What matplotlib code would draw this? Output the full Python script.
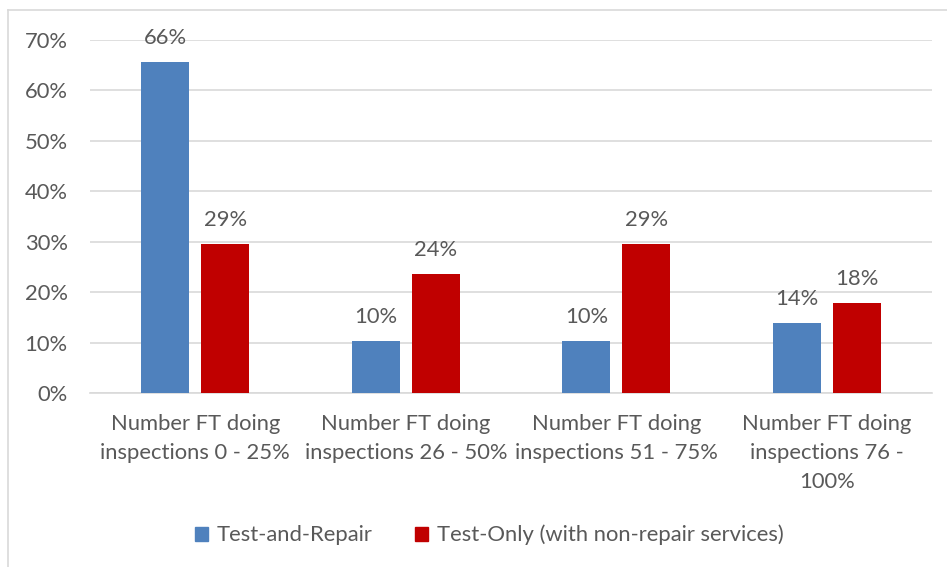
import matplotlib
matplotlib.use("Agg")
import matplotlib.pyplot as plt
import numpy as np
from matplotlib.patches import Rectangle
from matplotlib.lines import Line2D

categories = ["Number FT doing\ninspections 0 - 25%",
              "Number FT doing\ninspections 26 - 50%",
              "Number FT doing\ninspections 51 - 75%",
              "Number FT doing\ninspections 76 -\n100%"]
series_names = ["Test-and-Repair", "Test-Only (with non-repair services)"]
test_and_repair = [0.656, 0.103, 0.103, 0.139]
test_only = [0.295, 0.236, 0.295, 0.178]
labels_tr = ["66%", "10%", "10%", "14%"]
labels_to = ["29%", "24%", "29%", "18%"]
yticks = [0, 0.1, 0.2, 0.3, 0.4, 0.5, 0.6, 0.7]

BLUE = "#4f81bd"
RED = "#c00000"
TXT = "#595959"
FS = 15.8
plt.rcParams['font.family'] = ['Lato', 'DejaVu Sans']

fig = plt.figure(figsize=(9.47, 5.67), dpi=100)
ax = fig.add_axes([90/947, 1-393/567, 842/947, 353/567])

x = np.arange(len(categories))
w = 0.228
off = 0.1425
b1 = ax.bar(x - off, test_and_repair, w, color=BLUE, zorder=3, label=series_names[0])
b2 = ax.bar(x + off, test_only, w, color=RED, zorder=3, label=series_names[1])
for bars, labs in ((b1, labels_tr), (b2, labels_to)):
    for rect, lab in zip(bars, labs):
        ax.annotate(lab, (rect.get_x()+rect.get_width()/2, rect.get_height()),
                    xytext=(0, 10), textcoords="offset points", ha="center", va="bottom",
                    fontsize=FS, color=TXT)

ax.set_xlim(-0.5, len(categories)-0.5)
ax.set_ylim(0, 0.7)
ax.set_yticks(yticks)
ax.set_yticklabels([f"{int(round(t*100))}%" for t in yticks])
ax.set_xticks(x)
ax.set_xticklabels(categories, linespacing=1.58)
ax.tick_params(axis='both', length=0, labelsize=FS, labelcolor=TXT)
ax.tick_params(axis='y', pad=16)
ax.tick_params(axis='x', pad=15)
ax.yaxis.grid(True, color="#d9d9d9", linewidth=1.2, zorder=0)
for s in ["top", "right", "left"]:
    ax.spines[s].set_visible(False)
ax.spines["bottom"].set_color("#d9d9d9")
ax.spines["bottom"].set_linewidth(1.2)

handles = [Rectangle((0, 0), 1, 1, color=BLUE), Rectangle((0, 0), 1, 1, color=RED)]
fig.legend(handles, series_names, loc="center", bbox_to_anchor=(489.5/947, 1-535/567),
           ncol=2, frameon=False, fontsize=FS, labelcolor=TXT,
           handlelength=0.6, handleheight=0.6, handletextpad=0.4, columnspacing=1.93)

fig.add_artist(Line2D([8/947, 1.0], [1-10/567, 1-10/567], color="#d9d9d9", linewidth=1.2))
fig.add_artist(Line2D([8/947, 8/947], [0, 1-10/567], color="#d9d9d9", linewidth=1.2))

fig.savefig("out.png", dpi=100, facecolor="white")
